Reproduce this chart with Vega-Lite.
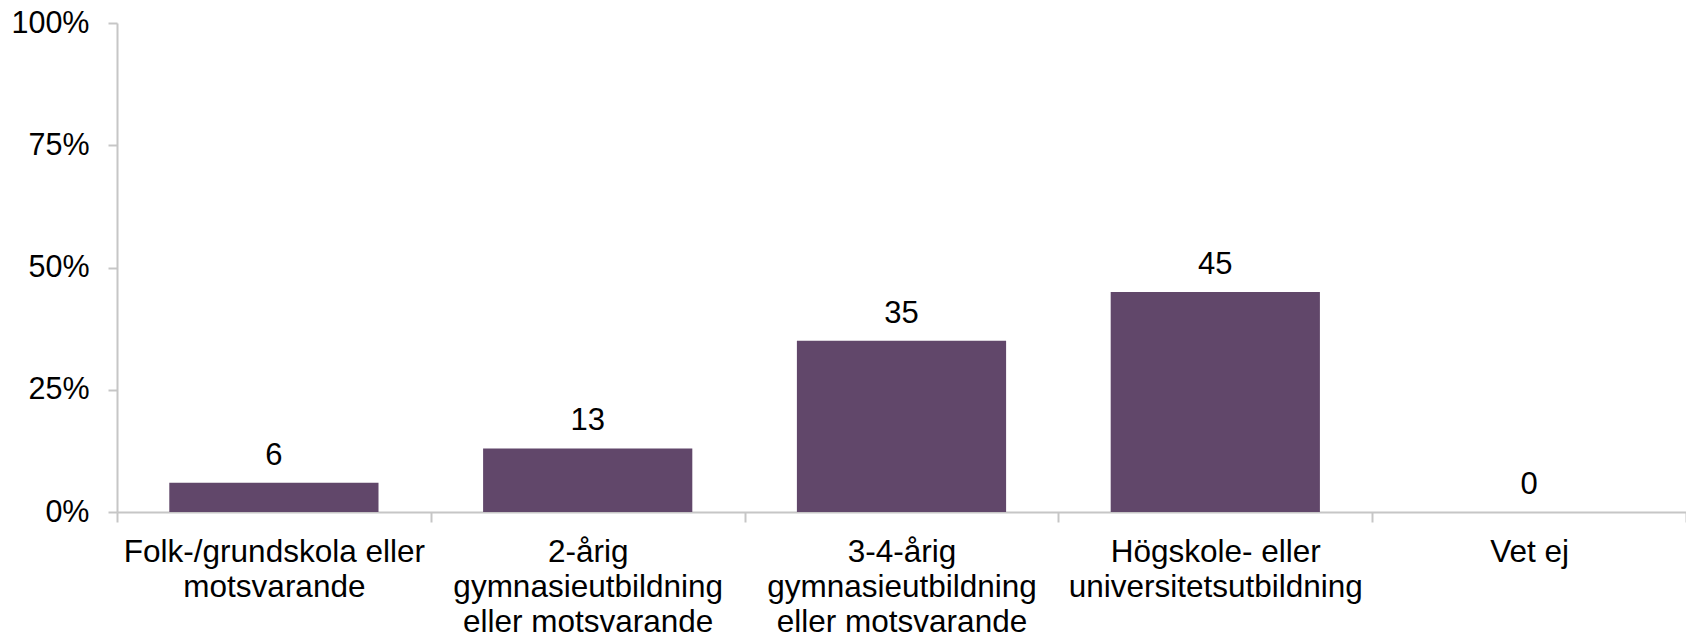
{
  "$schema": "https://vega.github.io/schema/vega-lite/v6.json",
  "autosize": "none",
  "padding": {"left": 117, "top": 23, "right": 0, "bottom": 126},
  "width": 1569,
  "height": 489,
  "background": "white",
  "config": {
    "view": {"stroke": null},
    "font": "Liberation Sans",
    "axis": {"labelFont": "Liberation Sans", "labelColor": "#000000", "labelFontSize": 30, "grid": false, "domainColor": "#c6c6c6", "tickColor": "#c6c6c6", "domainWidth": 2, "tickWidth": 2}
  },
  "data": {
    "values": [
      {"kategori": "Folk-/grundskola eller motsvarande", "andel": 6},
      {"kategori": "2-årig gymnasieutbildning eller motsvarande", "andel": 13},
      {"kategori": "3-4-årig gymnasieutbildning eller motsvarande", "andel": 35},
      {"kategori": "Högskole- eller universitetsutbildning", "andel": 45},
      {"kategori": "Vet ej", "andel": 0}
    ]
  },
  "encoding": {
    "x": {
      "field": "kategori",
      "type": "nominal",
      "sort": null,
      "scale": {"paddingInner": 0, "paddingOuter": 0},
      "axis": {
        "title": null,
        "labelAngle": 0,
        "labelFontSize": 31.5,
        "tickBand": "extent",
        "tickSize": 10,
        "labelPadding": 14,
        "labelLineHeight": 35,
        "labelLimit": 0,
        "labelExpr": "({'Folk-/grundskola eller motsvarande': ['Folk-/grundskola eller', 'motsvarande'], '2-årig gymnasieutbildning eller motsvarande': ['2-årig', 'gymnasieutbildning', 'eller motsvarande'], '3-4-årig gymnasieutbildning eller motsvarande': ['3-4-årig', 'gymnasieutbildning', 'eller motsvarande'], 'Högskole- eller universitetsutbildning': ['Högskole- eller', 'universitetsutbildning'], 'Vet ej': ['Vet ej']})[datum.value]"
      }
    },
    "y": {
      "field": "andel",
      "type": "quantitative",
      "scale": {"domain": [0, 100], "nice": false},
      "axis": {
        "title": null,
        "values": [0, 25, 50, 75, 100],
        "labelFontSize": 30.5,
        "tickSize": 9,
        "labelPadding": 19,
        "labelExpr": "datum.value + '%'"
      }
    }
  },
  "layer": [
    {
      "mark": {"type": "bar", "color": "#61476a", "width": {"band": 0.6667}}
    },
    {
      "mark": {"type": "text", "fontSize": 31, "font": "Liberation Sans", "color": "#000000", "baseline": "alphabetic", "dy": -18},
      "encoding": {"text": {"field": "andel", "type": "quantitative"}}
    }
  ]
}
